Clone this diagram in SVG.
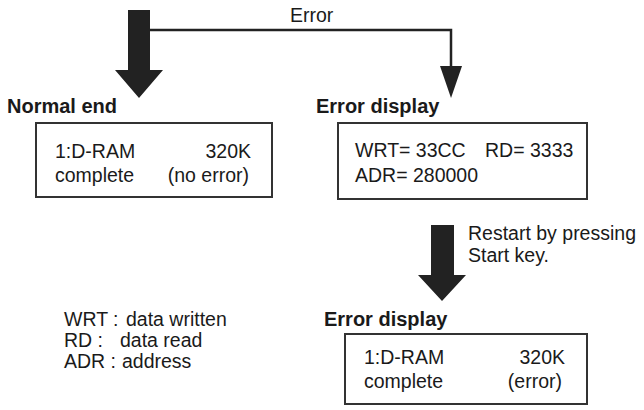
<svg xmlns="http://www.w3.org/2000/svg" width="644" height="410" viewBox="0 0 644 410">
<style>
text{font-family:"Liberation Sans",Arial,Helvetica,sans-serif;font-size:19.5px;fill:#1a1a1a}
.b{font-weight:bold;font-size:20px}
.box{fill:#fff;stroke:#333;stroke-width:2}
.fat{fill:#222}
.ln{fill:none;stroke:#222;stroke-width:2.5}
</style>
<rect width="644" height="410" fill="#fff"/>
<g id="connectors">
<polygon class="fat" points="128,10 150,10 150,70 163,70 139,98 115,70 128,70"/>
<polyline class="ln" points="150,30 451,30 451,68"/>
<polygon class="fat" points="440,66 462,66 451,98"/>
<text x="290" y="22">Error</text>
<polygon class="fat" points="431,225 454,225 454,275 466,275 442,301 418,275 431,275"/>
<text x="468" y="240">Restart by pressing</text>
<text x="468" y="262">Start key.</text>
</g>
<g id="normal-end">
<text class="b" x="7" y="113">Normal end</text>
<rect class="box" x="36" y="123" width="236" height="74"/>
<text x="55" y="158">1:D-RAM</text>
<text x="251" y="158" text-anchor="end">320K</text>
<text x="55" y="182">complete</text>
<text x="249" y="182" text-anchor="end">(no error)</text>
</g>
<g id="error-display">
<text class="b" x="316" y="113">Error display</text>
<rect class="box" x="338" y="123" width="249" height="76"/>
<text x="355" y="157">WRT= 33CC</text>
<text x="485" y="157">RD= 3333</text>
<text x="355" y="182">ADR= 280000</text>
</g>
<g id="error-display-2">
<text class="b" x="324" y="326">Error display</text>
<rect class="box" x="345" y="334" width="242" height="70"/>
<text x="364" y="364">1:D-RAM</text>
<text x="565" y="364" text-anchor="end">320K</text>
<text x="364" y="388">complete</text>
<text x="562" y="388" text-anchor="end">(error)</text>
</g>
<g id="legend">
<text x="64" y="326">WRT :</text>
<text x="126" y="326">data written</text>
<text x="64" y="347">RD :</text>
<text x="120" y="347">data read</text>
<text x="64" y="368">ADR :</text>
<text x="122" y="368">address</text>
</g>
</svg>
